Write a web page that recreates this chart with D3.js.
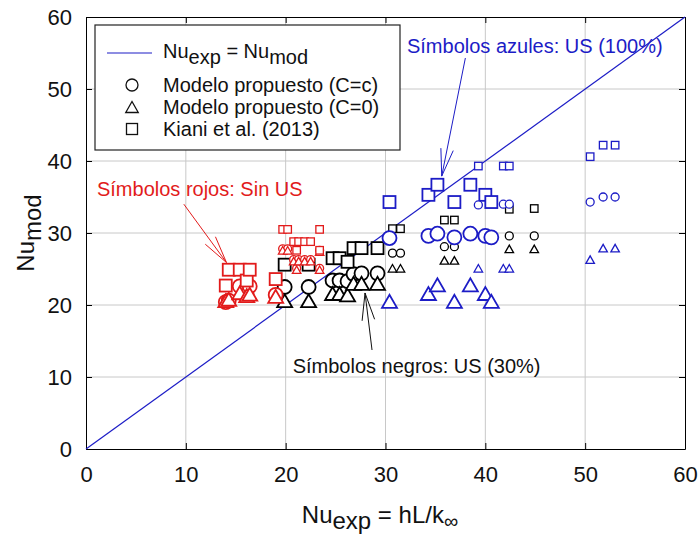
<!DOCTYPE html>
<html>
<head>
<meta charset="utf-8">
<script src="https://cdn.jsdelivr.net/npm/d3@7"></script>
<style>
  body { margin: 0; background: #fff; }
  svg { display: block; font-family: "Liberation Sans", Arial, sans-serif; }
</style>
</head>
<body>
<svg id="chart" width="699" height="538"></svg>
<script>
// Axis ticks
const xTicks = [0, 10, 20, 30, 40, 50, 60];
const yTicks = [0, 10, 20, 30, 40, 50, 60];

// Black symbols: US (30%), large markers
const blackBigX      = [19.9, 22.3, 24.7, 25.4, 26.2, 26.8, 27.6, 29.2];
const blackBigKiani  = [25.6, 25.6, 26.5, 26.5, 26.0, 27.9, 27.9, 27.9];
const blackBigCc     = [22.5, 22.5, 23.4, 23.4, 23.3, 24.3, 24.4, 24.4];
const blackBigC0     = [20.6, 20.6, 21.6, 21.6, 21.4, 23.0, 23.0, 23.0];
// Black symbols, small markers
const blackSmallX     = [30.7, 31.5, 35.9, 36.9, 42.4, 44.9];
const blackSmallKiani = [30.6, 30.6, 31.8, 31.8, 33.3, 33.4];
const blackSmallCc    = [27.2, 27.2, 28.1, 28.1, 29.6, 29.6];
const blackSmallC0    = [25.1, 25.1, 26.2, 26.2, 27.8, 27.8];

// Red symbols: no ultrasound, large markers
const redBigX      = [14.0, 14.3, 15.4, 16.1, 16.4, 19.0];
const redBigKiani  = [22.7, 24.9, 24.9, 23.4, 24.9, 23.6];
const redBigCc     = [20.4, 20.6, 22.6, 21.4, 22.6, 21.4];
const redBigC0     = [20.6, 20.8, 21.7, 21.3, 21.5, 21.2];
// Red symbols, small markers
const redSmallX     = [19.7, 20.2, 20.8, 21.3, 21.9, 22.5, 21.1, 23.4, 23.4];
const redSmallKiani = [30.5, 30.5, 28.8, 28.8, 28.8, 28.8, 27.6, 27.6, 30.5];
const redSmallCc    = [27.8, 27.8, 26.3, 26.3, 26.3, 26.3, 25.1, 25.1, 27.6];
const redSmallC0    = [27.6, 27.6, 26.1, 26.1, 26.1, 26.1, 24.9, 24.9, 27.4];

// Blue symbols: US (100%), large markers
const blueBigX      = [30.4, 34.3, 35.2, 36.9, 38.5, 40.0, 40.6];
const blueBigKiani  = [34.3, 35.3, 36.7, 34.3, 36.7, 35.3, 34.3];
const blueBigCc     = [29.3, 29.6, 29.9, 29.4, 29.9, 29.6, 29.4];
const blueBigC0     = [20.5, 21.6, 22.8, 20.5, 22.8, 21.6, 20.5];
// Blue symbols, small markers
const blueSmallX     = [39.3, 41.8, 42.4, 50.5, 51.8, 53.0];
const blueSmallKiani = [39.3, 39.3, 39.3, 40.6, 42.2, 42.2];
const blueSmallCc    = [33.9, 34.0, 34.0, 34.3, 35.0, 35.0];
const blueSmallC0    = [25.1, 25.1, 25.1, 26.3, 27.9, 27.9];

const RED = "#e21b1b", BLUE = "#1c1cc6", BLACK = "#000";

const svg = d3.select("#chart");
const x = d3.scaleLinear().domain([0, 60]).range([86, 685]);
const y = d3.scaleLinear().domain([0, 60]).range([449, 17]);
const [x0, x1] = x.range();
const [y0, y1] = y.range();

// Gridlines
const grid = svg.append("g").attr("stroke", "#c8c8c8").attr("stroke-width", 1);
grid.selectAll(".gx").data(xTicks.slice(1, -1)).join("line")
  .attr("x1", d => x(d)).attr("x2", d => x(d)).attr("y1", y0).attr("y2", y1);
grid.selectAll(".gy").data(yTicks.slice(1, -1)).join("line")
  .attr("y1", d => y(d)).attr("y2", d => y(d)).attr("x1", x0).attr("x2", x1);

// Axes with inward ticks on all four sides
function styleAxis(g) {
  g.selectAll("path").attr("stroke", "#000").attr("stroke-width", 1);
  g.selectAll("line").attr("stroke", "#000");
  g.selectAll("text").attr("font-size", 22).attr("fill", "#111")
    .attr("font-family", '"Liberation Sans", Arial, sans-serif');
}
svg.append("g").attr("transform", `translate(0,${y0})`)
  .call(d3.axisBottom(x).tickValues(xTicks).tickSize(-6).tickPadding(17).tickSizeOuter(0))
  .call(styleAxis);
svg.append("g").attr("transform", `translate(${x0},0)`)
  .call(d3.axisLeft(y).tickValues(yTicks).tickSize(-6).tickPadding(14).tickSizeOuter(0))
  .call(styleAxis);
svg.append("g").attr("transform", `translate(0,${y1})`)
  .call(d3.axisTop(x).tickValues(xTicks).tickSize(-6).tickFormat("").tickSizeOuter(0))
  .call(styleAxis);
svg.append("g").attr("transform", `translate(${x1},0)`)
  .call(d3.axisRight(y).tickValues(yTicks).tickSize(-6).tickFormat("").tickSizeOuter(0))
  .call(styleAxis);

// Identity line Nu_exp = Nu_mod
svg.append("line")
  .attr("x1", x(0)).attr("y1", y(0)).attr("x2", x(60)).attr("y2", y(60))
  .attr("stroke", BLUE).attr("stroke-width", 1.2);

// Marker helpers
function triPath(cx, cy, w, h) {
  return `M${cx - w / 2},${cy + h / 2}L${cx + w / 2},${cy + h / 2}L${cx},${cy - h / 2}Z`;
}
const BIG = { r: 7, sq: 12, tw: 15, th: 13, sw: 1.8 };
const SMALL = { r: 4, sq: 7.5, tw: 8.5, th: 7.5, sw: 1.3 };

function drawGroup(xs, kiani, cc, c0, color, sz) {
  const g = svg.append("g").attr("stroke", color).attr("fill", "#fff").attr("stroke-width", sz.sw);
  const ptsC = xs.map((v, i) => [v, cc[i]]);
  const ptsT = xs.map((v, i) => [v, c0[i]]);
  const ptsS = xs.map((v, i) => [v, kiani[i]]);
  g.selectAll(".c").data(ptsC).join("circle")
    .attr("cx", d => x(d[0])).attr("cy", d => y(d[1])).attr("r", sz.r);
  g.selectAll(".t").data(ptsT).join("path")
    .attr("d", d => triPath(x(d[0]), y(d[1]), sz.tw, sz.th));
  g.selectAll(".s").data(ptsS).join("rect")
    .attr("x", d => x(d[0]) - sz.sq / 2).attr("y", d => y(d[1]) - sz.sq / 2)
    .attr("width", sz.sq).attr("height", sz.sq);
}

drawGroup(blackBigX, blackBigKiani, blackBigCc, blackBigC0, BLACK, BIG);
drawGroup(blackSmallX, blackSmallKiani, blackSmallCc, blackSmallC0, BLACK, SMALL);
drawGroup(redBigX, redBigKiani, redBigCc, redBigC0, RED, BIG);
drawGroup(redSmallX, redSmallKiani, redSmallCc, redSmallC0, RED, SMALL);
drawGroup(blueBigX, blueBigKiani, blueBigCc, blueBigC0, BLUE, BIG);
drawGroup(blueSmallX, blueSmallKiani, blueSmallCc, blueSmallC0, BLUE, SMALL);

// Annotations: label anchor and arrow (tail -> tip) in data units
const annotations = [
  { text: "Símbolos rojos: Sin US", color: RED, lx: 1.1, ly: 35.1, tail: [9.8, 34.0], tip: [14.07, 25.9] },
  { text: "Símbolos azules: US (100%)", color: BLUE, lx: 32.15, ly: 55.0, tail: [38.0, 54.3], tip: [35.63, 37.9] },
  { text: "Símbolos negros: US (30%)", color: "#111", lx: 20.7, ly: 10.6, tail: [28.65, 13.75], tip: [27.95, 21.67] }
];

annotations.forEach(a => {
  svg.append("text").attr("x", x(a.lx)).attr("y", y(a.ly))
    .attr("font-size", 20).attr("fill", a.color).text(a.text);
  const tx = x(a.tip[0]), ty = y(a.tip[1]);
  const sx = x(a.tail[0]), sy = y(a.tail[1]);
  const ang = Math.atan2(sy - ty, sx - tx);
  const len = 28, spread = 13 * Math.PI / 180;
  const g = svg.append("g").attr("stroke", a.color).attr("stroke-width", 1).attr("fill", "none");
  g.append("line").attr("x1", sx).attr("y1", sy).attr("x2", tx).attr("y2", ty);
  [-spread, spread].forEach(s => {
    g.append("line").attr("x1", tx).attr("y1", ty)
      .attr("x2", tx + len * Math.cos(ang + s)).attr("y2", ty + len * Math.sin(ang + s));
  });
});

// Legend
const lg = svg.append("g");
lg.append("rect").attr("x", 95).attr("y", 25).attr("width", 305).attr("height", 125)
  .attr("fill", "#fff").attr("stroke", "#222").attr("stroke-width", 1.2);
lg.append("line").attr("x1", 107).attr("x2", 152).attr("y1", 53).attr("y2", 53)
  .attr("stroke", BLUE).attr("stroke-width", 1.2);
const t1 = lg.append("text").attr("x", 163).attr("y", 58).attr("font-size", 20).attr("fill", "#111");
t1.append("tspan").text("Nu");
t1.append("tspan").attr("dy", 6).text("exp");
t1.append("tspan").attr("dy", -6).text(" = Nu");
t1.append("tspan").attr("dy", 6).text("mod");

const legendRows = [
  { label: "Modelo propuesto (C=c)", shape: "circle", cy: 85 },
  { label: "Modelo propuesto (C=0)", shape: "triangle", cy: 107 },
  { label: "Kiani et al. (2013)", shape: "square", cy: 129 }
];
legendRows.forEach(r => {
  const mg = lg.append("g").attr("stroke", "#111").attr("fill", "none").attr("stroke-width", 1.3);
  if (r.shape === "circle") mg.append("circle").attr("cx", 132).attr("cy", r.cy).attr("r", 6);
  if (r.shape === "triangle") mg.append("path").attr("d", triPath(132, r.cy, 12.5, 11));
  if (r.shape === "square") mg.append("rect").attr("x", 126.5).attr("y", r.cy - 5.5).attr("width", 11).attr("height", 11);
  lg.append("text").attr("x", 163).attr("y", r.cy + 7).attr("font-size", 20).attr("fill", "#111").text(r.label);
});

// Axis titles
const xt = svg.append("text").attr("x", 380).attr("y", 523).attr("text-anchor", "middle")
  .attr("font-size", 24).attr("fill", "#111");
xt.append("tspan").text("Nu");
xt.append("tspan").attr("dy", 6).text("exp");
xt.append("tspan").attr("dy", -6).text(" = hL/k");
xt.append("tspan").attr("dy", 5).attr("font-size", 20).text("∞");

const yt = svg.append("text").attr("transform", "translate(34,233) rotate(-90)")
  .attr("text-anchor", "middle").attr("font-size", 24).attr("fill", "#111");
yt.append("tspan").text("Nu");
yt.append("tspan").attr("dy", 7).text("mod");
</script>
</body>
</html>
